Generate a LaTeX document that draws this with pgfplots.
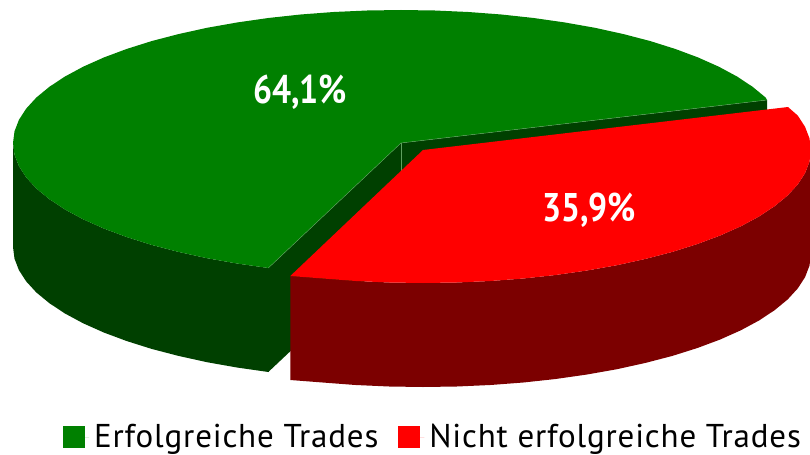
\documentclass[border=0pt]{standalone}
\usepackage{pgfplots}
\pgfplotsset{compat=1.18}
\usepackage{fontspec}
\setmainfont{PT Sans}
\newfontfamily\legfont[LetterSpace=2.5]{PT Sans}
\definecolor{gtop}{HTML}{008000}
\definecolor{gside}{HTML}{004000}
\definecolor{rtop}{HTML}{FF0000}
\definecolor{rside}{HTML}{7C0000}
\definecolor{gedge}{HTML}{5FA05F}
\begin{document}
\begin{tikzpicture}
\useasboundingbox (0,0) rectangle (810bp,455bp);
\begin{axis}[
  at={(0,0)},anchor=south west,
  width=810bp,height=455bp,scale only axis,
  xmin=0,xmax=810,ymin=0,ymax=455,y dir=reverse,
  hide axis,clip=true,
  legend columns=2,
  legend style={draw=none,fill=none,at={(axis cs:806,437)},anchor=east,inner sep=0pt,outer sep=0pt,
    font=\legfont\fontsize{33bp}{35bp}\selectfont,
    /tikz/every even column/.append style={column sep=15bp},
    nodes={inner xsep=5bp,inner ysep=0pt}},
  legend image code/.code={\fill[#1] (0bp,-11bp) rectangle (22bp,11bp);\path (0bp,0bp) -- (26bp,0bp);},
]
% cut faces of the green slice
\addplot[forget plot,fill=gside,draw=none] coordinates {(268.3,268)(401,143)(401,247)(268.3,372)} -- cycle;
\addplot[forget plot,fill=gside,draw=none] coordinates {(401,143)(767,100)(767,204)(401,247)} -- cycle;
\addplot[forget plot,gedge,line width=0.4bp] coordinates {(401,143)(401,178)};
% outer side of the green slice
\addplot[forget plot,fill=gside,draw=none] coordinates {
(13,143)(14.5,154.6)(18.9,166.1)(26.2,177.4)(36.4,188.5)(49.4,199.2)(65,209.5)(83.2,219.3)(103.8,228.5)(126.6,237)(151.6,244.9)(178.5,251.9)(207,258.2)(237,263.5)(268.3,268)
(268.3,372)(237,367.5)(207,362.2)(178.5,355.9)(151.6,348.9)(126.6,341)(103.8,332.5)(83.2,323.3)(65,313.5)(49.4,303.2)(36.4,292.5)(26.2,281.4)(18.9,270.1)(14.5,258.6)(13,247)} -- cycle;
\addplot[forget plot,gside,line width=1bp] coordinates {(268.3,268)(268.3,371.5)};
% top of the green slice
\addplot[fill=gtop,draw=none] coordinates {
(401,143)(767,100)(765.6,97.5)(752.6,86.8)(737,76.5)(718.8,66.7)(698.2,57.5)(675.4,49)(650.4,41.1)(623.5,34.1)(595,27.8)(565,22.5)(533.7,18)(501.4,14.5)(468.4,12)(434.8,10.5)(401,10)(367.2,10.5)(333.6,12)(300.6,14.5)(268.3,18)(237,22.5)(207,27.8)(178.5,34.1)(151.6,41.1)(126.6,49)(103.8,57.5)(83.2,66.7)(65,76.5)(49.4,86.8)(36.4,97.5)(26.2,108.6)(18.9,119.9)(14.5,131.4)(13,143)(14.5,154.6)(18.9,166.1)(26.2,177.4)(36.4,188.5)(49.4,199.2)(65,209.5)(83.2,219.3)(103.8,228.5)(126.6,237)(151.6,244.9)(178.5,251.9)(207,258.2)(237,263.5)(268.3,268)} -- cycle;
\addlegendentry{Erfolgreiche Trades}
\addplot[forget plot,gedge,line width=0.4bp] coordinates {(268.3,268)(401,143)(767,100)};
% outer side of the red slice
\addplot[forget plot,fill=rside,draw=none] coordinates {
(811,150)(809.5,161.6)(805.1,173.1)(797.8,184.4)(787.6,195.5)(774.6,206.2)(759,216.5)(740.8,226.3)(720.2,235.5)(697.4,244)(672.4,251.9)(645.5,258.9)(617,265.2)(587,270.5)(555.7,275)(523.4,278.5)(490.4,281)(456.8,282.5)(423,283)(389.2,282.5)(355.6,281)(322.6,278.5)(290.3,276)
(290.3,380)(322.6,382.5)(355.6,385)(389.2,386.5)(423,387)(456.8,386.5)(490.4,385)(523.4,382.5)(555.7,379)(587,374.5)(617,369.2)(645.5,362.9)(672.4,355.9)(697.4,348)(720.2,339.5)(740.8,330.3)(759,320.5)(774.6,310.2)(787.6,299.5)(797.8,288.4)(805.1,277.1)(809.5,265.6)(811,254)} -- cycle;
% top of the red slice
\addplot[fill=rtop,draw=none] coordinates {
(423,150)(788,107)(797.8,115.6)(805.1,126.9)(809.5,138.4)(811,150)(809.5,161.6)(805.1,173.1)(797.8,184.4)(787.6,195.5)(774.6,206.2)(759,216.5)(740.8,226.3)(720.2,235.5)(697.4,244)(672.4,251.9)(645.5,258.9)(617,265.2)(587,270.5)(555.7,275)(523.4,278.5)(490.4,281)(456.8,282.5)(423,283)(389.2,282.5)(355.6,281)(322.6,278.5)(290.3,276)} -- cycle;
\addlegendentry{Nicht erfolgreiche Trades}
\node[white,font=\fontsize{40bp}{42bp}\selectfont\bfseries] at (axis cs:300,92) {\scalebox{0.84}[1]{64,1\%}};
\node[white,font=\fontsize{40bp}{42bp}\selectfont\bfseries] at (axis cs:589,210) {\scalebox{0.84}[1]{35,9\%}};
\end{axis}
\end{tikzpicture}
\end{document}
